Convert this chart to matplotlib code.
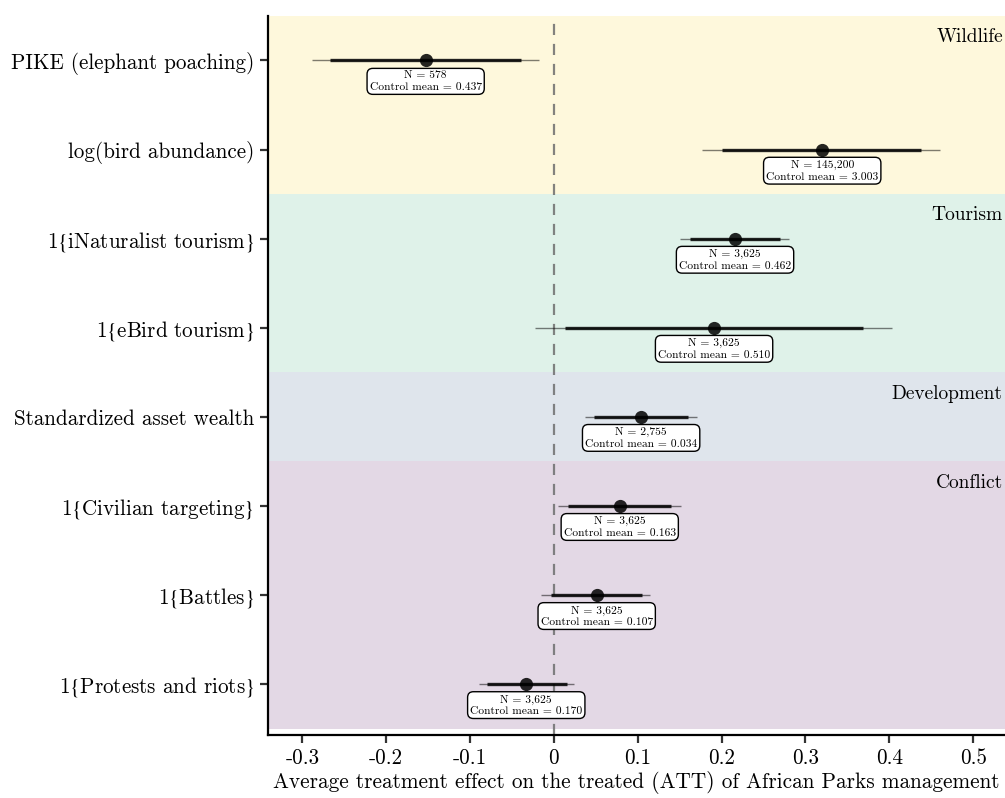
import matplotlib
matplotlib.use("Agg")
import matplotlib.pyplot as plt
import matplotlib.transforms as mtransforms

# Outcomes, top to bottom
outcomes = [
    "PIKE (elephant poaching)",
    "log(bird abundance)",
    r"1$\{$iNaturalist tourism$\}$",
    r"1$\{$eBird tourism$\}$",
    "Standardized asset wealth",
    r"1$\{$Civilian targeting$\}$",
    r"1$\{$Battles$\}$",
    r"1$\{$Protests and riots$\}$",
]
att = [-0.153, 0.320, 0.216, 0.191, 0.104, 0.0785, 0.051, -0.033]
ci90_lo = [-0.267, 0.200, 0.162, 0.013, 0.048, 0.017, -0.003, -0.080]
ci90_hi = [-0.039, 0.438, 0.270, 0.369, 0.160, 0.140, 0.105, 0.015]
ci95_lo = [-0.289, 0.177, 0.150, -0.022, 0.037, 0.005, -0.015, -0.089]
ci95_hi = [-0.018, 0.461, 0.280, 0.403, 0.171, 0.152, 0.115, 0.024]
n_obs = ["578", "145,200", "3,625", "3,625", "2,755", "3,625", "3,625", "3,625"]
control_mean = ["0.437", "3.003", "0.462", "0.510", "0.034", "0.163", "0.107", "0.170"]

# Outcome groups: name, number of outcomes, fill colour
groups = ["Wildlife", "Tourism", "Development", "Conflict"]
group_sizes = [2, 2, 1, 3]
group_colors = ["#fef8dc", "#dff2e9", "#dfe5ec", "#e3d8e5"]

xticks = [-0.3, -0.2, -0.1, 0.0, 0.1, 0.2, 0.3, 0.4, 0.5]
xtick_labels = ["-0.3", "-0.2", "-0.1", "0", "0.1", "0.2", "0.3", "0.4", "0.5"]

plt.rcParams.update({
    "font.family": "cmr10",
    "mathtext.fontset": "stix",
    "axes.unicode_minus": False,
    "axes.formatter.use_mathtext": True,
})

fig = plt.figure(figsize=(10.05, 7.98), dpi=100)
ax = fig.add_axes([0.2667, 0.0789, 0.7333, 0.9011])

n = len(outcomes)
ypos = list(range(n, 0, -1))

# shaded bands for each group
top = n + 0.5
trans = mtransforms.blended_transform_factory(ax.transAxes, ax.transData)
for name, size, col in zip(groups, group_sizes, group_colors):
    ax.axhspan(top - size, top, color=col, lw=0, zorder=0)
    ax.text(0.997, top - 0.24, name, transform=trans, ha="right", va="center", fontsize=14)
    top -= size

ax.axvline(0, color="#6e6e6e", lw=1.6, ls=(0, (5, 4)), alpha=0.85, zorder=1)

ax.hlines(ypos, ci95_lo, ci95_hi, color="black", alpha=0.5, lw=1.0, zorder=2)
ax.hlines(ypos, ci90_lo, ci90_hi, color="black", alpha=0.85, lw=2.4, zorder=3)
ax.plot(att, ypos, "o", color="black", alpha=0.85, ms=9.5, mec="none", zorder=4)

for x, y, nn, cm in zip(att, ypos, n_obs, control_mean):
    ax.annotate(f"N = {nn}\nControl mean = {cm}", (x, y), xytext=(0, -7.5),
                textcoords="offset points", ha="center", va="top", fontsize=8.3,
                linespacing=1.25, zorder=5,
                bbox=dict(boxstyle="round,pad=0.22,rounding_size=0.5", fc="white", ec="black", lw=1.0))

ax.set_xlim(-0.341, 0.538)
ax.set_ylim(0.427, n + 0.5)
ax.set_yticks(ypos)
ax.set_yticklabels(outcomes, fontsize=15.2)
ax.set_xticks(xticks)
ax.set_xticklabels(xtick_labels, fontsize=15.2)
ax.set_xlabel("Average treatment effect on the treated (ATT) of African Parks management",
              fontsize=15.3, labelpad=2)

for s in ["top", "right"]:
    ax.spines[s].set_visible(False)
for s in ["left", "bottom"]:
    ax.spines[s].set_linewidth(1.6)
ax.tick_params(axis="both", length=6, width=1.6, color="#333333", pad=4)

fig.savefig("out.png", dpi=100)
